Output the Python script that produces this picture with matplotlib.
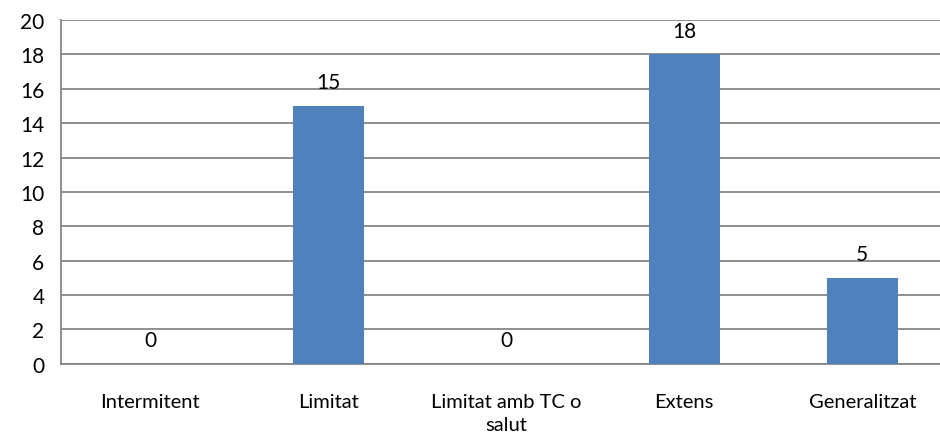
import matplotlib.pyplot as plt

categories = ['Intermitent', 'Limitat', 'Limitat amb TC o\nsalut', 'Extens', 'Generalitzat']
values = [0, 15, 0, 18, 5]
yticks = list(range(0, 21, 2))

plt.rcParams['font.family'] = ['Lato', 'DejaVu Sans']

fig = plt.figure(figsize=(9.4, 4.39), dpi=100)
ax = fig.add_axes([0.065, 0.169, 0.947, 0.783])

x = list(range(len(categories)))
ax.bar(x, values, width=0.4, color='#4F81BD', zorder=3)

for xi, v in zip(x, values):
    ax.annotate(str(v), (xi, v), xytext=(0, 10), textcoords='offset points',
                ha='center', va='bottom', fontsize=15, color='black')

ax.set_xlim(-0.5, len(categories) - 0.5)
ax.set_ylim(0, 20)
ax.set_yticks(yticks)
ax.set_yticklabels([str(t) for t in yticks], fontsize=15)
ax.set_xticks(x)
ax.set_xticklabels(categories, fontsize=14.5, linespacing=1.45)
ax.tick_params(axis='y', length=0, pad=12)
ax.tick_params(axis='x', length=0, pad=21)
ax.yaxis.grid(True, color='#868686', linewidth=1.3, zorder=0)
for side in ['top', 'right']:
    ax.spines[side].set_visible(False)
for side in ['left', 'bottom']:
    ax.spines[side].set_color('#868686')
    ax.spines[side].set_linewidth(1.3)

fig.savefig('out.png', dpi=100)
